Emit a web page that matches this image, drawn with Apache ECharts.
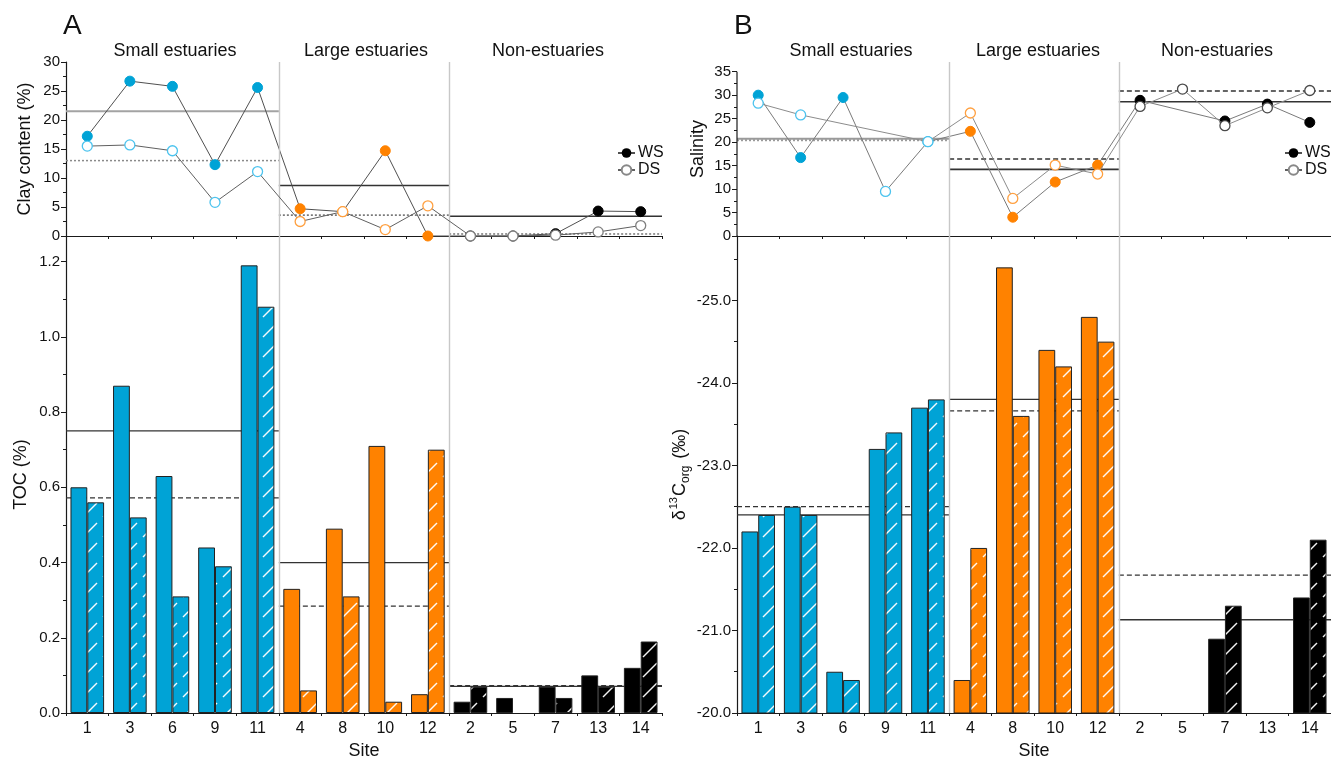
<!DOCTYPE html>
<html><head><meta charset="utf-8">
<script src="https://cdn.jsdelivr.net/npm/echarts@6/dist/echarts.min.js"></script>
<style>html,body{margin:0;padding:0;background:#fff}#c{width:1331px;height:765px}</style>
</head><body><div id="c"></div>
<script>
// ---------------- DATA ----------------
const sites = ['1','3','6','9','11','4','8','10','12','2','5','7','13','14'];
const groupNames = ['Small estuaries','Large estuaries','Non-estuaries'];
const groupSizes = [5,4,5];
const seasonNames = ['WS','DS'];

// Panel A, top: clay content (%)
const clayWS = [17.2,26.7,25.8,12.3,25.6, 4.7,4.2,14.7,0.0, 0.0,0.0,0.4,4.3,4.2];
const clayDS = [15.5,15.7,14.7,5.8,11.1, 2.5,4.2,1.1,5.2, 0.0,0.0,0.15,0.7,1.8];
const clayMeanWS = [21.5,8.7,3.4];
const clayMeanDS = [13.0,3.6,0.35];
const clayTicks = [0,5,10,15,20,25,30];
const clayMinor = [2.5,7.5,12.5,17.5,22.5,27.5];

// Panel A, bottom: TOC (%)
const tocWS = [0.60,0.87,0.63,0.44,1.19, 0.33,0.49,0.71,0.05, 0.03,0.04,0.07,0.10,0.12];
const tocDS = [0.56,0.52,0.31,0.39,1.08, 0.06,0.31,0.03,0.70, 0.07,null,0.04,0.07,0.19];
const tocMeanWS = [0.75,0.40,0.071];
const tocMeanDS = [0.572,0.284,0.073];
const tocTicks = [0,0.2,0.4,0.6,0.8,1.0,1.2];
const tocMinor = [0.1,0.3,0.5,0.7,0.9,1.1];

// Panel B, top: salinity
const salWS = [30.0,16.7,29.5,9.5,20.1, 22.3,4.0,11.5,15.1, 28.9,null,24.5,28.1,24.2];
const salDS = [28.3,25.8,null,null,20.1, 26.2,8.0,15.1,13.2, 27.6,31.3,23.5,27.3,31.0];
const salMeanWS = [20.7,14.2,28.6];
const salMeanDS = [20.4,16.4,30.9];
const salTicks = [0,5,10,15,20,25,30,35];
const salMinor = [2.5,7.5,12.5,17.5,22.5,27.5,32.5];

// Panel B, bottom: d13C org (per mil)
const d13WS = [-22.2,-22.5,-20.5,-23.2,-23.7, -20.4,-25.4,-24.4,-24.8, null,null,-20.9,null,-21.4];
const d13DS = [-22.4,-22.4,-20.4,-23.4,-23.8, -22.0,-23.6,-24.2,-24.5, null,null,-21.3,null,-22.1];
const d13MeanWS = [-22.4,-23.8,-21.13];
const d13MeanDS = [-22.5,-23.66,-21.67];
const d13Ticks = [-20,-21,-22,-23,-24,-25];
const d13Minor = [-20.5,-21.5,-22.5,-23.5,-24.5,-25.5];

// ---------------- STYLE / LAYOUT ----------------
const FONT = '"Liberation Sans", Arial, Helvetica, sans-serif';
const INK = '#1a1a1a';
const groupColors = ['#00A3D6','#FF8200','#000000'];
const lightColorsA = ['#4CC3EE','#FFA040','#808080'];
const lightColorsB = ['#4CC3EE','#FFA040','#4a4a4a'];

const groupIndex = [];
groupSizes.forEach((n,g)=>{ for(let k=0;k<n;k++) groupIndex.push(g); });
const bounds = [0];
groupSizes.forEach(n=>bounds.push(bounds[bounds.length-1]+n));

const TOP = 62, MID = 236, BOT = 719;
const panels = [
  {left:66, width:596, titleX:[175,366,548], legendLeft:612},
  {left:737, width:594, titleX:[851,1038,1217], legendLeft:1279}
];

function hatch(color){
  const c = document.createElement('canvas');
  c.width = 20; c.height = 20;
  const ctx = c.getContext('2d');
  ctx.fillStyle = color; ctx.fillRect(0,0,20,20);
  ctx.strokeStyle = 'rgba(255,255,255,0.95)';
  ctx.lineWidth = 1.4;
  ctx.beginPath(); ctx.moveTo(3,17); ctx.lineTo(17,3); ctx.stroke();
  return {image:c, repeat:'repeat'};
}
const hatchFills = groupColors.map(hatch);

const grids = [
  {left:panels[0].left, top:TOP, width:panels[0].width, height:MID-TOP},
  {left:panels[0].left, top:MID, width:panels[0].width, height:BOT-MID},
  {left:panels[1].left, top:TOP, width:panels[1].width, height:MID-TOP},
  {left:panels[1].left, top:MID, width:panels[1].width, height:BOT-MID}
];

function xAxes(gi, bottom){
  return [
    {type:'category', gridIndex:gi, data:sites, position:'bottom', boundaryGap:true,
     axisLine:{onZero:false, lineStyle:{color:INK, width:1.2}},
     axisTick:{alignWithLabel:true, length:5, lineStyle:{color:INK, width:1}},
     axisLabel:{show:bottom, interval:0, fontFamily:FONT, fontSize:16, color:'#111', margin:8},
     name: bottom ? 'Site' : '', nameLocation:'middle', nameGap:29,
     nameTextStyle:{fontFamily:FONT, fontSize:18, color:'#111'}},
    {type:'value', gridIndex:gi, min:0, max:sites.length, interval:1, position:'bottom',
     axisLine:{show:false, onZero:false}, axisTick:{show:true, length:3, lineStyle:{color:INK, width:1}},
     axisLabel:{show:false}, splitLine:{show:false}}
  ];
}

function yAxes(gi, o){
  return [
    {type:'value', gridIndex:gi, min:o.min, max:o.max, inverse:!!o.inverse, position:'left',
     name:o.name, nameLocation:'middle', nameGap:o.nameGap, nameRotate:90,
     nameTextStyle:{fontFamily:FONT, fontSize:18, color:'#111', rich:o.rich},
     axisLine:{show:o.axisLine!==false, onZero:false, lineStyle:{color:INK, width:1.2}},
     axisTick:{show:true, length:5, customValues:o.major, lineStyle:{color:INK, width:1}},
     axisLabel:{customValues:o.major, formatter:o.fmt, fontFamily:FONT, fontSize:15, color:'#111', margin:6},
     splitLine:{show:false}},
    {type:'value', gridIndex:gi, min:o.min, max:o.max, inverse:!!o.inverse, position:'left', offset:0,
     axisLine:{show:false, onZero:false},
     axisTick:{show:true, length:3, customValues:o.minor, lineStyle:{color:INK, width:1}},
     axisLabel:{show:false}, splitLine:{show:false}}
  ];
}

const sepMark = {
  silent:true, symbol:['none','none'], animation:false,
  label:{show:false},
  lineStyle:{color:'#c8c8c8', width:1.4, type:'solid'},
  data: bounds.slice(1,-1).map(b=>({xAxis:b}))
};

function meanSeries(gi, mWS, mDS, styles){
  const out = [];
  for (let g=0; g<groupSizes.length; g++){
    const s = styles[g];
    out.push({type:'line', xAxisIndex:2*gi+1, yAxisIndex:2*gi, silent:true, symbol:'none', z:2,
      data:[[bounds[g], mWS[g]],[bounds[g+1], mWS[g]]],
      lineStyle:{color:s.ws, width:s.wsW, type:'solid'},
      markLine: g===0 ? sepMark : undefined});
    out.push({type:'line', xAxisIndex:2*gi+1, yAxisIndex:2*gi, silent:true, symbol:'none', z:2,
      data:[[bounds[g], mDS[g]],[bounds[g+1], mDS[g]]],
      lineStyle:{color:s.ds, width:s.dsW, type:s.dsType}});
  }
  return out;
}

function pointSeries(gi, ws, ds, o){
  const wsData = ws.map((v,i)=>{
    const g = groupIndex[i];
    if (v==null) return '-';
    const hollow = o.hollowWS && o.hollowWS.includes(i);
    return {value:v, itemStyle: hollow
      ? {color:'#fff', borderColor:o.light[g], borderWidth:1.3}
      : {color:groupColors[g], borderColor:groupColors[g], borderWidth:1}};
  });
  const dsData = ds.map((v,i)=>{
    const g = groupIndex[i];
    if (v==null) return '-';
    return {value:v, itemStyle:{color:'#fff', borderColor:o.light[g], borderWidth:1.3}};
  });
  return [
    {name:seasonNames[0], type:'line', xAxisIndex:2*gi, yAxisIndex:2*gi, data:wsData, z:4,
     symbol:'circle', symbolSize:10, connectNulls:true, clip:false,
     lineStyle:{color:o.wsLine, width:1}, itemStyle:{color:'#000', borderColor:'#000'}},
    {name:seasonNames[1], type:'line', xAxisIndex:2*gi, yAxisIndex:2*gi, data:dsData, z:5,
     symbol:'circle', symbolSize:10, connectNulls:true, clip:false,
     lineStyle:{color:o.dsLine, width:1}, itemStyle:{color:'#fff', borderColor:'#888', borderWidth:1.3}}
  ];
}

function barSeries(gi, ws, ds){
  const base = {type:'bar', xAxisIndex:2*gi, yAxisIndex:2*gi, barGap:'0%', barCategoryGap:'21%', z:3,
    itemStyle:{borderColor:'#222', borderWidth:1}};
  return [
    Object.assign({}, base, {name:'WS bars', data: ws.map((v,i)=> v==null ? '-' :
      {value:v, itemStyle:{color:groupColors[groupIndex[i]], borderColor:'#222', borderWidth:1}})}),
    Object.assign({}, base, {name:'DS bars', data: ds.map((v,i)=> v==null ? '-' :
      {value:v, itemStyle:{color:hatchFills[groupIndex[i]], borderColor:'#222', borderWidth:1}})})
  ];
}

const topMeanA = [
  {ws:'#a3a3a3', wsW:2, ds:'#8a8a8a', dsW:1.5, dsType:[2,2]},
  {ws:'#333', wsW:1.6, ds:'#666', dsW:1.5, dsType:[2,2]},
  {ws:'#333', wsW:1.6, ds:'#777', dsW:1.5, dsType:[2,2]}
];
const botMean = [0,1,2].map(()=>({ws:'#333', wsW:1.3, ds:'#333', dsW:1.3, dsType:[5,3]}));
const topMeanB = [
  {ws:'#9a9a9a', wsW:2, ds:'#9a9a9a', dsW:2, dsType:[2,2]},
  {ws:'#333', wsW:1.6, ds:'#333', dsW:1.6, dsType:[5,3]},
  {ws:'#333', wsW:1.6, ds:'#333', dsW:1.6, dsType:[5,3]}
];

const salMax = 35*(MID-TOP)/(MID-71.7);
const tocMax = 1.268;
const d13Min = -25.78;

const fmt1 = v=>v.toFixed(1);
const fmt0 = v=>String(Math.round(v));

const xAxis = [].concat(xAxes(0,false), xAxes(1,true), xAxes(2,false), xAxes(3,true));
const yAxis = [].concat(
  yAxes(0,{min:0,max:30,major:clayTicks,minor:clayMinor,fmt:fmt0,name:'Clay content (%)',nameGap:32}),
  yAxes(1,{min:0,max:tocMax,major:tocTicks,minor:tocMinor,fmt:fmt1,name:'TOC (%)',nameGap:36}),
  yAxes(2,{min:0,max:salMax,major:salTicks,minor:salMinor,fmt:fmt0,name:'Salinity',nameGap:30,axisLine:false}),
  yAxes(3,{min:d13Min,max:-20,inverse:true,major:d13Ticks,minor:d13Minor,fmt:fmt1,nameGap:45,
    name:'{t|δ}{sup|13}{t|C}{sub|org}{t| (‰)}',
    rich:{t:{fontFamily:FONT,fontSize:18,color:'#111',lineHeight:24,verticalAlign:'middle'},
          sup:{fontFamily:FONT,fontSize:11,color:'#111',lineHeight:24,verticalAlign:'top',padding:[0,1,0,1]},
          sub:{fontFamily:FONT,fontSize:12,color:'#111',lineHeight:24,verticalAlign:'bottom',padding:[0,2,0,0]}}})
);

const series = [].concat(
  meanSeries(0, clayMeanWS, clayMeanDS, topMeanA),
  pointSeries(0, clayWS, clayDS, {light:lightColorsA, wsLine:'#505050', dsLine:'#606060'}),
  meanSeries(1, tocMeanWS, tocMeanDS, botMean),
  barSeries(1, tocWS, tocDS),
  meanSeries(2, salMeanWS, salMeanDS, topMeanB),
  pointSeries(2, salWS, salDS, {light:lightColorsB, wsLine:'#7a7a7a', dsLine:'#8c8c8c', hollowWS:[3]}),
  [{type:'line', xAxisIndex:5, yAxisIndex:4, silent:true, symbol:'none', clip:false, z:6,
    data:[[0,0],[0,salTicks[salTicks.length-1]]], lineStyle:{color:INK, width:1.2}}],
  meanSeries(3, d13MeanWS, d13MeanDS, botMean),
  barSeries(3, d13WS, d13DS)
);

function legendAt(left){
  return {data:seasonNames, left:left, top:140, orient:'vertical', itemWidth:17, itemHeight:12,
    itemGap:1, selectedMode:false,
    textStyle:{fontFamily:FONT, fontSize:16, color:'#111', padding:[0,0,0,-2]}};
}

// group titles & panel letters
const graphics = [];
panels.forEach((p,pi)=>{
  for (let g=0; g<groupSizes.length; g++){
    graphics.push({type:'text', x:p.titleX[g], y:51, silent:true,
      style:{text:groupNames[g], font:'18px '+FONT, fill:'#111', textAlign:'center', textVerticalAlign:'middle'}});
  }
  graphics.push({type:'text', x:p.left-3, y:26, silent:true,
    style:{text:['A','B'][pi], font:'28px '+FONT, fill:'#111', textAlign:'left', textVerticalAlign:'middle'}});
});

const chart = echarts.init(document.getElementById('c'), null, {renderer:'canvas'});
chart.setOption({
  animation:false,
  backgroundColor:'#ffffff',
  grid:grids,
  xAxis:xAxis,
  yAxis:yAxis,
  legend:panels.map(p=>legendAt(p.legendLeft)),
  graphic:graphics,
  series:series
});
</script>
</body></html>
